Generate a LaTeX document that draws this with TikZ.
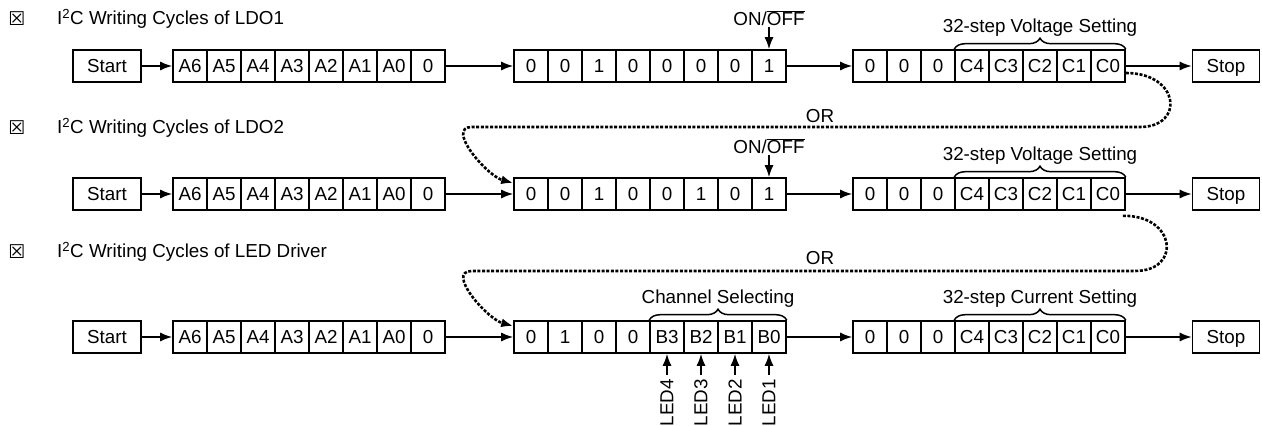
\documentclass[tikz,border=0pt]{standalone}
\usepackage{fontspec}
\setmainfont{Liberation Sans}
\newfontfamily\boxfont{DejaVu Sans}
\usepackage{tikz}
\usetikzlibrary{arrows.meta, decorations.pathreplacing}

\begin{document}
\begin{tikzpicture}[x=1pt, y=1pt, >={Latex[length=12pt,width=9pt]},
    every node/.style={font=\fontsize{18.8}{22}\selectfont},
    cell/.style={draw, line width=1.6pt, minimum width=34pt, minimum height=32pt, inner sep=0pt,
        text height=13.5pt, text depth=0pt},
    link/.style={->, line width=1.5pt},
    orpath/.style={->, line width=2.6pt, dash pattern=on 3pt off 1.6pt},
    bracket/.style={decorate, decoration={brace, amplitude=11pt}, line width=1.5pt}]
    \useasboundingbox (0,0) rectangle (1262,426);

    % Ba chu kỳ ghi I2C
    \foreach \r/\yr/\yh/\name/\bits in {1/360/407/LDO1/{0,0,1,0,0,0,0,1},
                                        2/232/298/LDO2/{0,0,1,0,0,1,0,1},
                                        3/89/174/LED Driver/{0,1,0,0,B3,B2,B1,B0}} {
        \node[font=\boxfont\fontsize{19}{21}\selectfont] (k\r) at (17,\yh) {☒};
        \node[anchor=west, inner sep=0pt] (h\r) at (57,\yh) {I\textsuperscript{2}C Writing Cycles of \name};
        \node[cell, minimum width=68pt] (s\r) at (107,\yr) {Start};
        \foreach \t [count=\i] in {A6,A5,A4,A3,A2,A1,A0,0}
            \node[cell] (a\r-\i) at (156+34*\i,\yr) {\t};
        \foreach \t [count=\i] in \bits
            \node[cell] (b\r-\i) at (497+34*\i,\yr) {\t};
        \foreach \t [count=\i] in {0,0,0,C4,C3,C2,C1,C0}
            \node[cell] (c\r-\i) at (836+34*\i,\yr) {\t};
        \node[cell, minimum width=67pt] (e\r) at (1226,\yr) {Stop};
        \draw[link] (s\r) -- (a\r-1);
        \draw[link] (a\r-8) -- (b\r-1);
        \draw[link] (b\r-8) -- (c\r-1);
        \draw[link] (c\r-8) -- (e\r);
    }

    % Ngoặc nhọn
    \foreach \r/\what in {1/Voltage,2/Voltage,3/Current}
        \draw[bracket] (c\r-4.north west) -- (c\r-8.north east)
            node[midway, above=12pt, inner sep=0pt] {32-step \what\ Setting};
    \draw[bracket] (b3-5.north west) -- (b3-8.north east)
        node[midway, above=12pt, inner sep=0pt] {Channel Selecting};

    % Bit ON/OFF
    \foreach \r in {1,2} {
        \node[anchor=base, inner sep=1pt] (o\r) at ([yshift=23.5pt]b\r-8.north) {ON/$\overline{\mbox{OFF}}$};
        \draw[link] (o\r) -- (b\r-8);
    }

    % Các đường OR
    \coordinate (p1r) at (1140,299);
    \coordinate (p1l) at (472,299);
    \draw[orpath] ([yshift=-7pt]c1-8.east) .. controls (1180,353) and (1185,299) .. (p1r)
        -- (p1l) to[out=180, in=165] ([yshift=11pt]b2-1.west);
    \node (or1) at (820,310) {OR};

    \coordinate (p2r) at (1135,155);
    \coordinate (p2l) at (472,155);
    \draw[orpath] ([xshift=-3pt, yshift=-5pt]c2-8.south east) .. controls (1176,211) and (1182,155) .. (p2r)
        -- (p2l) to[out=180, in=165] ([yshift=11pt]b3-1.west);
    \node (or2) at (820,168) {OR};

    % Các kênh LED
    \foreach \j/\k in {5/4,6/3,7/2,8/1} {
        \node[rotate=90, anchor=east, inner sep=0pt] (l\k) at ([yshift=-25pt]b3-\j.south) {LED\k};
        \draw[link, shorten <=4pt] (l\k) -- (b3-\j);
    }
\end{tikzpicture}
\end{document}
